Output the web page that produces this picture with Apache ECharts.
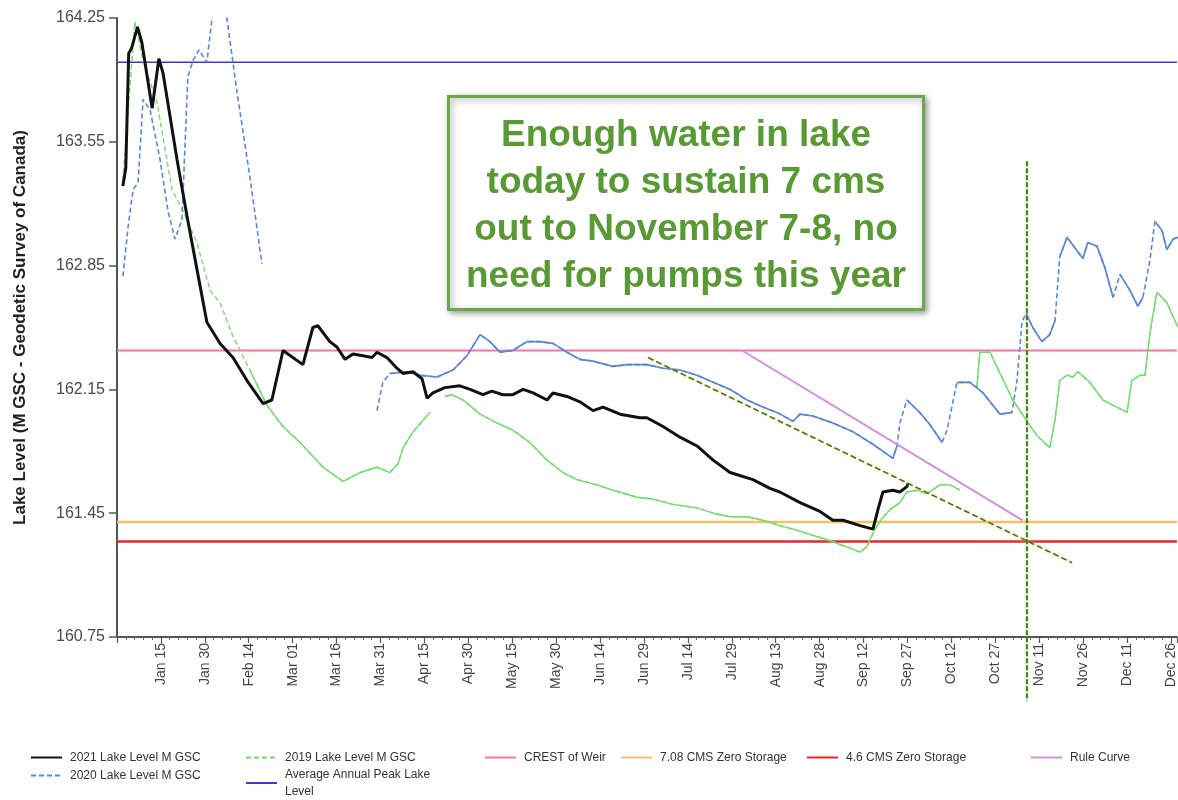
<!DOCTYPE html>
<html>
<head>
<meta charset="utf-8">
<script src="https://cdn.jsdelivr.net/npm/echarts@6/dist/echarts.min.js"></script>
<style>
html,body{margin:0;padding:0;background:#fff;}
#chart{width:1178px;height:800px;}
</style>
</head>
<body>
<div id="chart"></div>
<script>
// ---------- DATA (x = day of year, 1 = Jan 1; y = lake level, m GSC) ----------
const xTickLabels = ['Jan 15','Jan 30','Feb 14','Mar 01','Mar 16','Mar 31','Apr 15','Apr 30','May 15','May 30','Jun 14','Jun 29','Jul 14','Jul 29','Aug 13','Aug 28','Sep 12','Sep 27','Oct 12','Oct 27','Nov 11','Nov 26','Dec 11','Dec 26'];
const yTickLabels = ['160.75','161.45','162.15','162.85','163.55','164.25'];

const level2021 = [[2,163.30],[3,163.40],[4,164.05],[5,164.08],[7,164.20],[8.5,164.11],[12,163.74],[14.3,164.02],[15.7,163.94],[20.5,163.45],[23.9,163.13],[27.3,162.83],[30.7,162.53],[35.2,162.41],[39.6,162.33],[44.4,162.20],[49.9,162.07],[52.9,162.09],[56.7,162.37],[63.5,162.29],[66.9,162.50],[68.6,162.51],[72.7,162.42],[75.1,162.39],[77.9,162.32],[80.6,162.35],[84,162.34],[87.1,162.33],[88.8,162.36],[92.2,162.33],[95.6,162.27],[97.7,162.24],[101.1,162.25],[104.2,162.21],[105.9,162.10],[107.9,162.13],[112,162.16],[117.1,162.17],[120.6,162.15],[125,162.12],[128,162.14],[131.8,162.12],[135.2,162.12],[138.7,162.15],[142.1,162.13],[146.9,162.09],[148.9,162.13],[153.7,162.11],[158.1,162.08],[162.6,162.03],[166,162.05],[171.8,162.01],[178.6,161.99],[181,161.99],[186.5,161.94],[192.3,161.88],[198.1,161.83],[203.6,161.75],[209.4,161.68],[217.2,161.64],[223,161.59],[226.4,161.57],[233.3,161.51],[240.1,161.46],[244.5,161.41],[248,161.41],[253.8,161.38],[258.2,161.36],[259.9,161.47],[261.6,161.57],[265,161.58],[267.4,161.57],[269.8,161.60],[270.2,161.62]];

const level2020 = [[2,162.79],[3.8,163.07],[5.5,163.28],[7.2,163.32],[8.9,163.79],[11.3,163.73],[14.7,163.45],[17.4,163.16],[19.8,163.00],[22.2,163.11],[24.2,163.92],[26,164.01],[28,164.07],[30.7,164.00],[32.4,164.24],[34.5,164.45],[36.5,164.40],[37.6,164.24],[41,163.83],[45.4,163.35],[49.5,162.86],[70,null],[88.8,162.03],[90.8,162.19],[93.2,162.24],[99,162.25],[103.5,162.23],[109.3,162.22],[114.8,162.26],[119.5,162.34],[124,162.46],[127.4,162.42],[130.8,162.36],[135.2,162.37],[140,162.42],[144.5,162.42],[148.9,162.41],[153.7,162.36],[158.1,162.32],[162.6,162.31],[169.4,162.28],[174.2,162.29],[181,162.29],[186.5,162.27],[192.3,162.26],[198.1,162.23],[203.6,162.19],[209.4,162.15],[215.2,162.09],[220.6,162.05],[225.4,162.02],[230.9,161.97],[233.3,162.01],[237.7,162.00],[244.5,161.96],[251.4,161.91],[258.2,161.84],[265,161.76],[266.4,161.83],[267.4,161.96],[269.8,162.09],[274.2,162.02],[277.7,161.95],[281.8,161.85],[283.5,161.92],[286.9,162.19],[291.3,162.19],[295.8,162.13],[301.6,162.01],[305.7,162.02],[307.4,162.20],[309.1,162.53],[310.5,162.58],[312.8,162.50],[315.9,162.42],[318.6,162.46],[320.4,162.54],[322,162.90],[324.5,163.01],[327.2,162.95],[329.9,162.89],[331.6,162.98],[334.7,162.96],[337.4,162.84],[340.2,162.67],[342.6,162.80],[346,162.71],[348.7,162.62],[350.4,162.67],[352.8,162.88],[354.5,163.10],[356.9,163.05],[358.6,162.94],[360.7,163.00],[362.4,163.01]];
const solid2020 = [[93.2,266.4],[269.8,281.8],[286.9,306],[310.5,320.4],[322,340.2],[342.6,350.4],[354.5,363]];

const level2019 = [[2,163.33],[6.1,164.23],[8.9,164.01],[13.7,163.77],[18.8,163.28],[22.5,163.16],[27.3,162.98],[31.8,162.71],[35.2,162.64],[39.6,162.45],[45.4,162.26],[51.2,162.06],[56.7,161.94],[62.5,161.85],[70.4,161.71],[77.2,161.63],[83,161.68],[88.8,161.71],[93.2,161.68],[96,161.73],[97.7,161.82],[101.1,161.91],[106.9,162.02],[109,null],[112,162.11],[114.4,162.12],[118.2,162.09],[124,162.01],[129.8,161.96],[135.2,161.92],[141,161.85],[146.9,161.75],[152.3,161.68],[157.1,161.64],[163.9,161.61],[169.4,161.58],[177.6,161.54],[183.1,161.53],[189.9,161.50],[198.1,161.48],[203.6,161.45],[209.4,161.43],[215.2,161.43],[220.6,161.41],[226.4,161.38],[230.9,161.36],[242.5,161.30],[249.3,161.26],[253.8,161.23],[256.1,161.26],[258.9,161.36],[261.3,161.42],[264,161.47],[267.4,161.51],[269.8,161.57],[273.2,161.58],[276.6,161.56],[281.1,161.61],[284.5,161.61],[287.9,161.58],[290,null],[293.7,162.16],[294.7,162.36],[298.2,162.36],[301.6,162.24],[306,162.09],[310.8,161.97],[314.2,161.89],[318.6,161.82],[320.4,161.98],[322,162.20],[324.5,162.23],[326.5,162.22],[328.2,162.25],[332.3,162.19],[336.7,162.09],[341.5,162.05],[345,162.02],[346.6,162.20],[349.4,162.23],[351.1,162.23],[352.8,162.47],[355.2,162.70],[358.6,162.64],[362.4,162.50]];
const solid2019 = [[45,363]];

const avgPeakLevel = 164.00;
const crestOfWeir = 162.37;
const zeroStorage708 = 161.40;
const zeroStorage46 = 161.29;
const ruleCurve = [[213.5,162.37],[309.3,161.41]];
const trendLine = [[181.4,162.33],[326.2,161.17]];
const forecastDate = [[310.8,163.44],[310.8,160.39]];
const xStart = 0, xEnd = 362;

const annotationLines = ['Enough water in lake','today to sustain 7 cms','out to November 7-8, no','need for pumps this year'];

// ---------- BUILD ----------
function overlay(data, ranges){
  const out = [];
  ranges.forEach((r,i)=>{
    if(i) out.push([r[0], null]);
    data.forEach(p=>{ if(p[0] >= r[0]-1e-6 && p[0] <= r[1]+1e-6) out.push(p); });
  });
  return out;
}
function hline(v){ return [[xStart,v],[xEnd,v]]; }

const C2021='#111111', C2020='#5b87d9', C2019='#72dd6a', CAVG='#3a3ad0', CCREST='#ff70a8', C708='#f3c06a', C46='#e8262c', CRULE='#d48ede';

const base = {type:'line', symbol:'none', showSymbol:false, animation:false, silent:true, connectNulls:false};

const series = [
  Object.assign({}, base, {name:'Average Annual Peak Lake Level', data:hline(avgPeakLevel), lineStyle:{color:CAVG,width:1.5}, itemStyle:{color:CAVG}}),
  Object.assign({}, base, {name:'CREST of Weir', data:hline(crestOfWeir), lineStyle:{color:CCREST,width:2}, itemStyle:{color:CCREST}}),
  Object.assign({}, base, {name:'7.08 CMS Zero Storage', data:hline(zeroStorage708), lineStyle:{color:C708,width:2.5}, itemStyle:{color:C708}}),
  Object.assign({}, base, {name:'4.6 CMS Zero Storage', data:hline(zeroStorage46), lineStyle:{color:C46,width:2.5}, itemStyle:{color:C46}}),
  Object.assign({}, base, {name:'2019 Lake Level M GSC', data:level2019, lineStyle:{color:C2019,width:1.4,type:[5,3]}, itemStyle:{color:C2019}}),
  Object.assign({}, base, {name:'_2019solid', data:overlay(level2019, solid2019), lineStyle:{color:C2019,width:1.4}, itemStyle:{color:C2019}}),
  Object.assign({}, base, {name:'2020 Lake Level M GSC', data:level2020, lineStyle:{color:C2020,width:1.6,type:[5,3]}, itemStyle:{color:C2020}}),
  Object.assign({}, base, {name:'_2020solid', data:overlay(level2020, solid2020), lineStyle:{color:C2020,width:1.6}, itemStyle:{color:C2020}}),
  Object.assign({}, base, {name:'Rule Curve', data:ruleCurve, lineStyle:{color:CRULE,width:2}, itemStyle:{color:CRULE}}),
  Object.assign({}, base, {name:'2021 Lake Level M GSC', data:level2021, lineStyle:{color:C2021,width:3}, itemStyle:{color:C2021}}),
  Object.assign({}, base, {name:'_trend', data:trendLine, lineStyle:{color:'#4f6a22',width:1.6,type:[6,3],shadowColor:'rgba(215,235,90,0.9)',shadowBlur:4}}),
  Object.assign({}, base, {name:'_forecast', data:forecastDate, clip:false, lineStyle:{color:'#4d7a26',width:2,type:[5,2],shadowColor:'rgba(150,220,90,0.8)',shadowBlur:3}})
];

const legendLayout = [
  {name:'2021 Lake Level M GSC', left:30, top:749},
  {name:'2020 Lake Level M GSC', left:30, top:767},
  {name:'2019 Lake Level M GSC', left:245, top:749},
  {name:'Average Annual Peak Lake Level', left:245, top:766, text:'Average Annual Peak Lake\nLevel'},
  {name:'CREST of Weir', left:484, top:749},
  {name:'7.08 CMS Zero Storage', left:620, top:749},
  {name:'4.6 CMS Zero Storage', left:806, top:749},
  {name:'Rule Curve', left:1030, top:749}
];
const legends = legendLayout.map(l=>({
  data:[l.name], left:l.left, top:l.top, orient:'horizontal', itemWidth:31, itemHeight:10, itemGap:0,
  selectedMode:false, padding:0,
  itemStyle:{opacity:0},
  formatter: l.text ? (()=>l.text) : undefined,
  textStyle:{fontSize:12, color:'#333', fontFamily:'Arial, "Liberation Sans", sans-serif', padding:[0,0,0,3], lineHeight:17}
}));

const option = {
  animation:false,
  backgroundColor:'#ffffff',
  textStyle:{fontFamily:'Arial, "Liberation Sans", sans-serif'},
  grid:{left:117, top:18, right:0, bottom:163, containLabel:false},
  legend: legends,
  xAxis:{
    type:'value', min:xStart, max:xEnd, interval:15,
    axisLine:{show:true, onZero:false, lineStyle:{color:'#555', width:2}},
    axisTick:{show:true, length:6, lineStyle:{color:'#555', width:1.2}},
    minorTick:{show:true, splitNumber:5, length:3, lineStyle:{color:'#666'}},
    splitLine:{show:false},
    axisLabel:{rotate:90, fontSize:14, color:'#444', margin:6, showMaxLabel:false,
      formatter:v=>{ const i = Math.round(v/15)-1; return (Math.abs(v/15-Math.round(v/15))<1e-6 && i>=0 && i<xTickLabels.length) ? xTickLabels[i] : ''; }}
  },
  yAxis:{
    type:'value', min:160.75, max:164.25, interval:0.7,
    name:'Lake Level (M GSC - Geodetic Survey of Canada)', nameLocation:'middle', nameGap:88,
    nameTextStyle:{fontWeight:'bold', fontSize:17, color:'#222'},
    axisLine:{show:true, lineStyle:{color:'#555', width:2}},
    axisTick:{show:true, length:8, lineStyle:{color:'#555', width:1.5}},
    splitLine:{show:false},
    axisLabel:{fontSize:16, color:'#4a4a4a', margin:12,
      formatter:v=>{ const i = Math.round((v-160.75)/0.7); return yTickLabels[i] || ''; }}
  },
  graphic:[{
    type:'group', left:447, top:95, z:100,
    children:[
      {type:'rect', shape:{x:0,y:0,width:475,height:213},
       style:{fill:'#ffffff', stroke:'#6aa84f', lineWidth:3, shadowBlur:6, shadowColor:'rgba(0,0,0,0.35)', shadowOffsetX:2, shadowOffsetY:2}},
      {type:'text', x:237.5, y:16,
       style:{text:annotationLines.join('\n'), align:'center', verticalAlign:'top',
         font:'bold 37px Arial, "Liberation Sans", sans-serif', fill:'#5a9a34', lineHeight:47}}
    ]
  }],
  series: series
};

const chart = echarts.init(document.getElementById('chart'), null, {renderer:'canvas'});
chart.setOption(option);
</script>
</body>
</html>
